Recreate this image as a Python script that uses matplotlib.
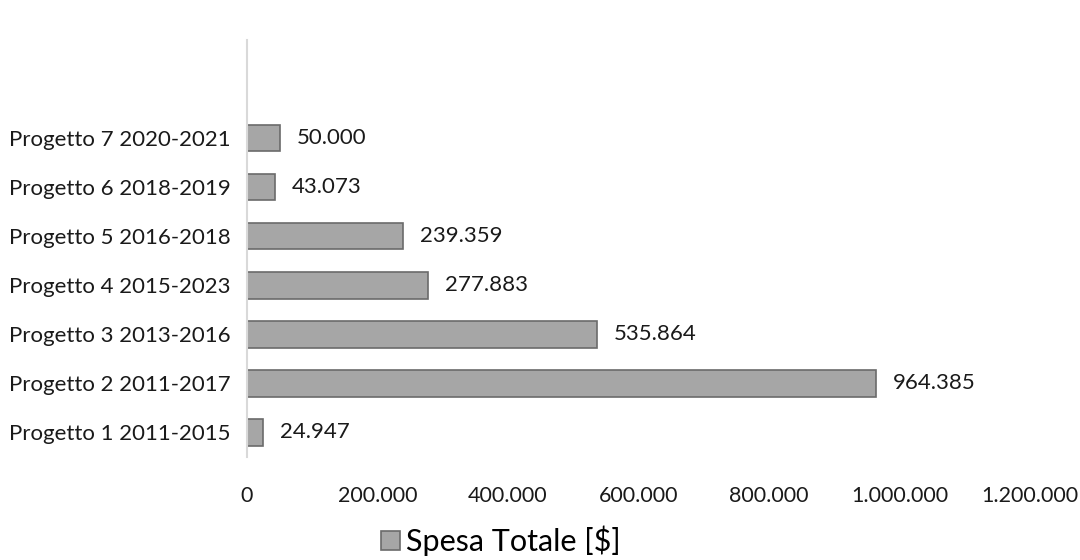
import numpy as np
import matplotlib.pyplot as plt

# dati
progetti = ["Progetto 1 2011-2015", "Progetto 2 2011-2017", "Progetto 3 2013-2016",
            "Progetto 4 2015-2023", "Progetto 5 2016-2018", "Progetto 6 2018-2019",
            "Progetto 7 2020-2021"]
spesa = [24947, 964385, 535864, 277883, 239359, 43073, 50000]
etichette = ["24.947", "964.385", "535.864", "277.883", "239.359", "43.073", "50.000"]
xticks = [0, 200000, 400000, 600000, 800000, 1000000, 1200000]
xtick_labels = ["0", "200.000", "400.000", "600.000", "800.000", "1.000.000", "1.200.000"]

plt.rcParams['font.family'] = ['Lato', 'DejaVu Sans']

fig = plt.figure(figsize=(10.8, 5.6), dpi=100)
ax = fig.add_axes([247/1080, 103/560, (1030-247)/1080, (520-103)/560])

y = np.arange(len(progetti))
bars = ax.barh(y, spesa, height=0.54, color='#a6a6a6', edgecolor='#6b6b6b',
               linewidth=1.2, label='Spesa Totale [$]')

for yi, v, lab in zip(y, spesa, etichette):
    ax.text(v + 26000, yi, lab, va='center', ha='left', fontsize=16, color='#1a1a1a')

ax.set_xlim(0, 1200000)
ax.set_ylim(-0.5, 8.0)
ax.set_yticks(y)
ax.set_yticklabels(progetti, fontsize=16, color='#1a1a1a')
ax.set_xticks(xticks)
ax.set_xticklabels(xtick_labels, fontsize=15.5, color='#1a1a1a')
ax.tick_params(axis='both', length=0)
ax.tick_params(axis='x', pad=21)
ax.tick_params(axis='y', pad=12)

for s in ['top', 'right', 'bottom']:
    ax.spines[s].set_visible(False)
ax.spines['left'].set_color('#d9d9d9')
ax.spines['left'].set_linewidth(1.5)

fig.legend(handles=[bars], labels=['Spesa Totale [$]'], loc='center',
           bbox_to_anchor=(501/1080, 1 - 541/560), frameon=False, fontsize=22,
           handlelength=0.6, handleheight=0.6, handletextpad=0.2,
           borderpad=0.1)

fig.savefig('out.png', dpi=100)
